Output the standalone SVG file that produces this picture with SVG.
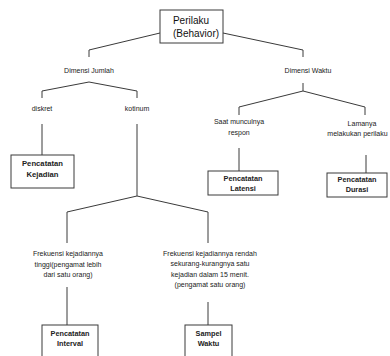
<svg xmlns="http://www.w3.org/2000/svg" width="390" height="356" viewBox="0 0 390 356">
<style>
.ln{fill:none;stroke:#3a3a3a;stroke-width:1}
.bx{fill:#fff;stroke:#3a3a3a;stroke-width:1}
.t{font-family:"Liberation Sans",Arial,sans-serif;font-size:7px;fill:#222;text-anchor:middle}
.b{font-family:"Liberation Sans",Arial,sans-serif;font-size:7.3px;font-weight:bold;fill:#222;text-anchor:middle}
.h{font-family:"Liberation Sans",Arial,sans-serif;font-size:10px;fill:#111;text-anchor:middle}
</style>
<rect width="390" height="356" fill="#fff"/>
<g id="connectors">
<polyline class="ln" points="160,33 89,50 89,57"/>
<polyline class="ln" points="223,33 303,50 303,57"/>
<polyline class="ln" points="42,98 42,91 89,82 137,91 137,98"/>
<line class="ln" x1="42" y1="124" x2="42" y2="155"/>
<polyline class="ln" points="137,124 137,196"/>
<polyline class="ln" points="67,243 67,212 137,196 208,212 208,243"/>
<line class="ln" x1="67" y1="287" x2="67" y2="325"/>
<line class="ln" x1="208" y1="302" x2="208" y2="325"/>
<polyline class="ln" points="303,83 303,91"/>
<polyline class="ln" points="239,115 239,107 303,91 365,107 365,115"/>
<line class="ln" x1="239" y1="148" x2="239" y2="171"/>
<line class="ln" x1="366" y1="155" x2="366" y2="173"/>
</g>
<g id="perilaku">
<rect class="bx" x="160" y="10" width="63" height="33"/>
<text class="h" x="191" y="24">Perilaku</text>
<text class="h" x="196" y="37">(Behavior)</text>
</g>
<g id="dimensi-jumlah"><text class="t" x="89" y="73">Dimensi Jumlah</text></g>
<g id="dimensi-waktu"><text class="t" x="308" y="73">Dimensi Waktu</text></g>
<g id="diskret"><text class="t" x="42" y="111">diskret</text></g>
<g id="kotinum"><text class="t" x="137" y="111">kotinum</text></g>
<g id="kejadian">
<rect class="bx" x="11" y="155" width="63" height="33"/>
<text class="b" x="42.5" y="166" style="font-size:7.7px">Pencatatan</text>
<text class="b" x="42.5" y="177" style="font-size:7.7px">Kejadian</text>
</g>
<g id="saat">
<text class="t" x="239" y="124">Saat munculnya</text>
<text class="t" x="239" y="135">respon</text>
</g>
<g id="lamanya">
<text class="t" x="362" y="126">Lamanya</text>
<text class="t" x="357.5" y="136">melakukan perilaku</text>
</g>
<g id="latensi">
<rect class="bx" x="208" y="171" width="70" height="24"/>
<text class="b" x="243" y="181">Pencatatan</text>
<text class="b" x="243" y="191">Latensi</text>
</g>
<g id="durasi">
<rect class="bx" x="327" y="173" width="60" height="24"/>
<text class="b" x="357" y="182">Pencatatan</text>
<text class="b" x="357" y="192">Durasi</text>
</g>
<g id="tinggi">
<text class="t" x="68" y="256">Frekuensi kejadiannya</text>
<text class="t" x="68" y="267">tinggi(pengamat lebih</text>
<text class="t" x="68" y="277">dari satu orang)</text>
</g>
<g id="rendah">
<text class="t" x="210" y="256">Frekuensi kejadiannya rendah</text>
<text class="t" x="210" y="266">sekurang-kurangnya satu</text>
<text class="t" x="210" y="277">kejadian dalam 15 menit.</text>
<text class="t" x="210" y="287">(pengamat satu orang)</text>
</g>
<g id="interval">
<rect class="bx" x="42" y="325" width="56" height="40"/>
<text class="b" x="70" y="336">Pencatatan</text>
<text class="b" x="70" y="346">Interval</text>
</g>
<g id="sampel">
<rect class="bx" x="185" y="325" width="47" height="40"/>
<text class="b" x="208.5" y="336">Sampel</text>
<text class="b" x="208.5" y="346">Waktu</text>
</g>
</svg>
